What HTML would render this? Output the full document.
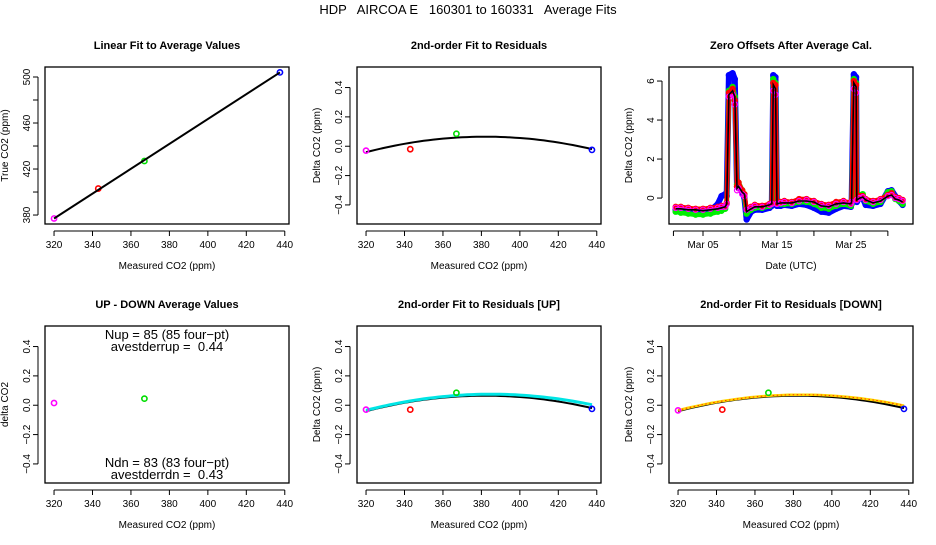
<!DOCTYPE html>
<html><head><meta charset="utf-8"><style>
body{margin:0;background:#fff}
svg text{font-family:"Liberation Sans",sans-serif;fill:#000}
</style></head><body>
<svg id="chart" width="936" height="540" viewBox="0 0 936 540" xmlns="http://www.w3.org/2000/svg">
<rect width="936" height="540" fill="#fff"/>
<text x="468" y="14" font-size="13" text-anchor="middle" style="white-space:pre" xml:space="preserve">HDP   AIRCOA E   160301 to 160331   Average Fits</text>
</svg>
<script>
// ---- data ----
const calX = [320, 343, 367, 437.5];
const calTrue = [377, 403, 427, 504];
const calColors = ['#ff00ff', '#ff0000', '#00dd00', '#0000ff'];
const residAll = [-0.03, -0.02, 0.085, -0.025];
const residUp = [-0.03, -0.03, 0.085, -0.025];
const residDn = [-0.035, -0.03, 0.085, -0.025];
const udX = [320, 367];
const udVal = [0.015, 0.045];
const udColors = ['#ff00ff', '#00dd00'];
// quadratic fits: [vertex x, peak, curvature]
const fitAll = [382, 0.065, 2.75e-5];
const fitUp = [385, 0.075, 2.6e-5];
const fitDn = [384, 0.072, 2.6e-5];
const tsT = [1.3,2,3,4,5,6,7,7.5,8,8.2,8.5,9,9.3,9.6,9.8,10.3,10.6,10.9,11.5,12,13,14,14.3,14.5,14.8,15,15.5,16,17,18,19,20,21,22,23,24,25,25.1,25.4,25.7,25.8,26.2,26.6,27,28,29,30,30.5,31,31.5,32];
const tsBlack = [-0.55,-0.55,-0.6,-0.6,-0.65,-0.6,-0.55,-0.5,-0.45,-0.3,5.3,5.5,5.2,0.5,0.6,0.3,0.2,-0.7,-0.55,-0.45,-0.45,-0.35,-0.3,5.8,5.6,-0.3,-0.25,-0.25,-0.25,-0.15,-0.15,-0.2,-0.4,-0.45,-0.3,-0.25,-0.3,-0.2,5.9,5.7,-0.1,0.0,0.05,-0.1,-0.25,-0.15,0.1,0.15,-0.05,-0.1,-0.2];
const tsMagenta = [-0.5,-0.5,-0.55,-0.6,-0.6,-0.55,-0.5,-0.45,-0.45,-0.3,5.2,5.3,4.8,0.4,0.5,0.2,0.1,-0.6,-0.5,-0.4,-0.45,-0.35,-0.3,5.5,5.3,-0.3,-0.25,-0.2,-0.25,-0.15,-0.1,-0.2,-0.35,-0.4,-0.3,-0.2,-0.3,-0.2,5.6,5.4,-0.1,0.0,0.05,-0.1,-0.2,-0.1,0.1,0.15,0.0,-0.05,-0.15];
const tsRed = [-0.45,-0.45,-0.5,-0.55,-0.55,-0.5,-0.45,-0.4,-0.4,-0.25,5.4,5.6,5.0,0.6,0.8,0.4,0.2,-0.55,-0.45,-0.35,-0.4,-0.3,-0.25,5.9,5.8,-0.25,-0.2,-0.15,-0.2,-0.05,-0.05,-0.15,-0.3,-0.35,-0.2,-0.15,-0.25,-0.15,6.0,5.8,-0.05,0.1,0.1,-0.05,-0.15,-0.05,0.15,0.25,0.05,0.0,-0.1];
const tsGreen = [-0.7,-0.75,-0.8,-0.85,-0.85,-0.8,-0.7,-0.65,-0.55,-0.3,5.5,5.7,5.2,0.7,0.8,0.4,0.1,-0.8,-0.6,-0.5,-0.5,-0.4,-0.3,6.1,5.9,-0.3,-0.3,-0.3,-0.3,-0.2,-0.2,-0.3,-0.5,-0.55,-0.4,-0.3,-0.4,-0.3,6.1,5.9,-0.05,0.15,0.2,-0.15,-0.3,-0.2,0.3,0.35,-0.05,-0.15,-0.3];
const tsBlue = [-0.6,-0.65,-0.7,-0.75,-0.8,-0.65,-0.3,0.1,0.2,0.1,6.3,6.4,6.1,0.6,0.7,0.3,0.0,-1.1,-0.7,-0.6,-0.6,-0.5,-0.4,6.3,6.2,-0.4,-0.4,-0.35,-0.4,-0.3,-0.35,-0.5,-0.7,-0.75,-0.55,-0.4,-0.45,-0.3,6.35,6.2,-0.2,0.05,0.0,-0.35,-0.4,-0.3,0.35,0.4,0.1,-0.15,-0.35];
const scatXTicks = [320,340,360,380,400,420,440];
const calYTicks = [380,400,420,440,460,480,500];
const calYLabels = ['380','','420','','460','','500'];
const residYTicks = [-0.4,-0.2,0.0,0.2,0.4];
const residYLabels = ['\u22120.4','\u22120.2','0.0','0.2','0.4'];
const tsXTicks = [1,5,10,15,20,25,30];
const tsXLabels = ['','Mar 05','','Mar 15','','Mar 25',''];
const tsYTicks = [0,2,4,6];
const tsYLabels = ['0','2','4','6'];

// ---- drawing ----
const svg = document.getElementById('chart');
const NS = 'http://www.w3.org/2000/svg';
function mk(tag, attrs, parent){ const e=document.createElementNS(NS,tag); for(const k in attrs) e.setAttribute(k,attrs[k]); (parent||svg).appendChild(e); return e; }
function txt(s, attrs, parent){ const e=mk('text',attrs,parent); e.textContent=s; return e; }

function panel(o){
  const g = mk('g',{});
  
  
  const X = v => o.x0 + (v-o.xlim[0])/(o.xlim[1]-o.xlim[0])*(o.x1-o.x0);
  const Y = v => o.y1 - (v-o.ylim[0])/(o.ylim[1]-o.ylim[0])*(o.y1-o.y0);
  const t = txt(o.title,{x:(o.x0+o.x1)/2, y:o.y0-18, 'font-size':11,'font-weight':'bold','text-anchor':'middle'},g);
  
  
  const box = mk('rect',{x:o.x0,y:o.y0,width:o.x1-o.x0,height:o.y1-o.y0,fill:'none',stroke:'#000','stroke-width':1.3},g);
  
  
  const xa = mk('g',{},g);
  
  
  const xt = o.xticks;
  mk('line',{x1:X(xt[0]),x2:X(xt[xt.length-1]),y1:o.y1+7,y2:o.y1+7,stroke:'#000','stroke-width':1},xa);
  xt.forEach((v,i)=>{ mk('line',{x1:X(v),x2:X(v),y1:o.y1+7,y2:o.y1+12,stroke:'#000'},xa);
    const l = o.xlabels ? o.xlabels[i] : String(v);
    if(l) txt(l,{x:X(v),y:o.y1+24,'font-size':10,'text-anchor':'middle'},xa); });
  const xt2 = txt(o.xtitle,{x:(o.x0+o.x1)/2,y:o.y1+45,'font-size':10,'text-anchor':'middle'},g);
  
  
  const ya = mk('g',{},g);
  
  
  const yt = o.yticks;
  mk('line',{x1:o.x0-7,x2:o.x0-7,y1:Y(yt[0]),y2:Y(yt[yt.length-1]),stroke:'#000'},ya);
  yt.forEach((v,i)=>{ mk('line',{x1:o.x0-7,x2:o.x0-12,y1:Y(v),y2:Y(v),stroke:'#000'},ya);
    const l=o.ylabels[i]; if(l){ const yy=Y(v), xx=o.x0-15; txt(l,{x:xx,y:yy,'font-size':10,'text-anchor':'middle',transform:`rotate(-90 ${xx} ${yy})`},ya);} });
  const cx=o.x0-37, cy=(o.y0+o.y1)/2;
  const yt2 = txt(o.ytitle,{x:cx,y:cy,'font-size':10,'text-anchor':'middle',transform:`rotate(-90 ${cx} ${cy})`},g);
  
  
  return {g,X,Y};
}
function pts(p, xs, ys, cols, r){
  xs.forEach((x,i)=>{ const c=mk('circle',{cx:p.X(x),cy:p.Y(ys[i]),r:r||2.6,fill:'none',stroke:cols[i],'stroke-width':1.6},p.g);
    
     });
}
function fitPath(p, f, color, w, dash){
  let d=''; for(let x=320;x<=437.5;x+=2.5){ const y=f[1]-f[2]*(x-f[0])*(x-f[0]); d+=(d?'L':'M')+p.X(x).toFixed(1)+','+p.Y(y).toFixed(1); }
  const e=mk('path',{d,fill:'none',stroke:color,'stroke-width':w},p.g);
  if(dash) e.setAttribute('stroke-dasharray',dash);
  
  
  return e;
}
const XL=[315.3,442.2], RY=[-0.53,0.54];
const cols=[45,357,669], rows=[[67,224],[326,483]];

// panel 1
let p = panel({name:'linear-fit-panel',title:'Linear Fit to Average Values',x0:cols[0],x1:cols[0]+244,y0:rows[0][0],y1:rows[0][1],xlim:XL,ylim:[372.2,508.7],xticks:scatXTicks,yticks:calYTicks,ylabels:calYLabels,xtitle:'Measured CO2 (ppm)',ytitle:'True CO2 (ppm)'});
pts(p,calX,calTrue,calColors);
(function(){ const l=mk('line',{x1:p.X(320),y1:p.Y(377),x2:p.X(437.5),y2:p.Y(504),stroke:'#000','stroke-width':2},p.g);

 })();

// panel 2
p = panel({name:'residuals-panel',title:'2nd-order Fit to Residuals',x0:cols[1],x1:cols[1]+244,y0:rows[0][0],y1:rows[0][1],xlim:XL,ylim:RY,xticks:scatXTicks,yticks:residYTicks,ylabels:residYLabels,xtitle:'Measured CO2 (ppm)',ytitle:'Delta CO2 (ppm)'});
fitPath(p,fitAll,'#000',2);
pts(p,calX,residAll,calColors);

// panel 3 time series
p = panel({name:'zero-offsets-panel',title:'Zero Offsets After Average Cal.',x0:cols[2],x1:cols[2]+244,y0:rows[0][0],y1:rows[0][1],xlim:[0.4,33.4],ylim:[-1.33,6.72],xticks:tsXTicks,xlabels:tsXLabels,yticks:tsYTicks,ylabels:tsYLabels,xtitle:'Date (UTC)',ytitle:'Delta CO2 (ppm)'});
[[tsBlue,'#0000ff',6],[tsGreen,'#00ee00',5],[tsRed,'#ff0000',4.5],[tsMagenta,'#ff00ff',1.5]].forEach(([arr,c,w])=>{
  let d=''; tsT.forEach((t,i)=>{ d+=(i?'L':'M')+p.X(t).toFixed(1)+','+p.Y(arr[i]).toFixed(1); });
  const e=mk('path',{d,fill:'none',stroke:c,'stroke-width':w,'stroke-linejoin':'round','stroke-linecap':'round'},p.g);
  
  
  tsT.forEach((t,i)=>{ const q=mk('circle',{cx:p.X(t),cy:p.Y(arr[i]),r:2.6,fill:'none',stroke:c,'stroke-width':1.2},p.g);
    
     });
});
(function(){ let d=''; tsT.forEach((t,i)=>{ d+=(i?'L':'M')+p.X(t).toFixed(1)+','+p.Y(tsBlack[i]).toFixed(1); });
const e=mk('path',{d,fill:'none',stroke:'#000','stroke-width':1.6},p.g);

 })();

// panel 4
p = panel({name:'up-down-panel',title:'UP - DOWN Average Values',x0:cols[0],x1:cols[0]+244,y0:rows[1][0],y1:rows[1][1],xlim:XL,ylim:RY,xticks:scatXTicks,yticks:residYTicks,ylabels:residYLabels,xtitle:'Measured CO2 (ppm)',ytitle:'delta CO2'});
pts(p,udX,udVal,udColors);
[['Nup = 85 (85 four\u2212pt)',339],['avestderrup =  0.44',351],['Ndn = 83 (83 four\u2212pt)',467],['avestderrdn =  0.43',479]].forEach(([s,y])=>{
  const e=txt(s,{x:167,y:y,'font-size':13,'text-anchor':'middle',style:'white-space:pre'},p.g);
  
   });

// panel 5
p = panel({name:'residuals-up-panel',title:'2nd-order Fit to Residuals [UP]',x0:cols[1],x1:cols[1]+244,y0:rows[1][0],y1:rows[1][1],xlim:XL,ylim:RY,xticks:scatXTicks,yticks:residYTicks,ylabels:residYLabels,xtitle:'Measured CO2 (ppm)',ytitle:'Delta CO2 (ppm)'});
fitPath(p,fitAll,'#000',2);
fitPath(p,fitUp,'#00e5e5',3);
pts(p,calX,residUp,calColors);

// panel 6
p = panel({name:'residuals-down-panel',title:'2nd-order Fit to Residuals [DOWN]',x0:cols[2],x1:cols[2]+244,y0:rows[1][0],y1:rows[1][1],xlim:XL,ylim:RY,xticks:scatXTicks,yticks:residYTicks,ylabels:residYLabels,xtitle:'Measured CO2 (ppm)',ytitle:'Delta CO2 (ppm)'});
fitPath(p,fitAll,'#000',2);
fitPath(p,fitDn,'#ffd700',2.5);
fitPath(p,fitDn,'#ff3300',1,'1.5,2.5');
pts(p,calX,residDn,calColors);
</script>
</body></html>
